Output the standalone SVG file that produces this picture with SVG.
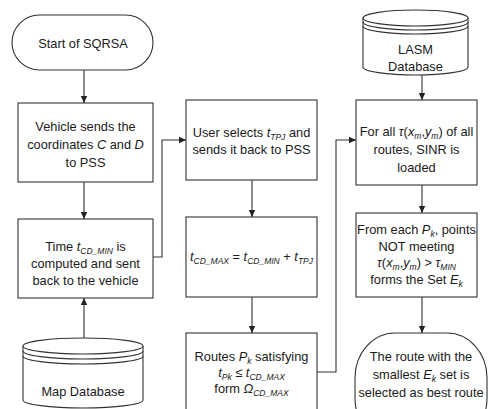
<svg xmlns="http://www.w3.org/2000/svg" width="489" height="409" viewBox="0 0 489 409">
<defs>
<marker id="ah" markerWidth="8" markerHeight="8" refX="7" refY="4" orient="auto" markerUnits="userSpaceOnUse">
<path d="M0,0.8 L7,4 L0,7.2 Z" fill="#222"/>
</marker>
<style>
.sh{fill:#fff;stroke:#333;stroke-width:1.1}
.ln{fill:none;stroke:#333;stroke-width:1.1}
text{font-family:"Liberation Sans",Arial,sans-serif;font-size:12.8px;fill:#1a1a1a;text-anchor:middle}
.i{font-style:italic}
.s{font-size:8.5px;font-style:italic}
</style>
</defs>
<rect width="489" height="409" fill="#fff"/>
<g id="connectors">
<path class="ln" d="M84,70 V103" marker-end="url(#ah)"/>
<path class="ln" d="M84,182 V219" marker-end="url(#ah)"/>
<path class="ln" d="M84,338 V298" marker-end="url(#ah)"/>
<path class="ln" d="M153,257 H162 V140 H186" marker-end="url(#ah)"/>
<path class="ln" d="M252,180 V217" marker-end="url(#ah)"/>
<path class="ln" d="M252,297 V333" marker-end="url(#ah)"/>
<path class="ln" d="M317,372 H336 V140 H356" marker-end="url(#ah)"/>
<path class="ln" d="M422,75 V100" marker-end="url(#ah)"/>
<path class="ln" d="M422,185 V213" marker-end="url(#ah)"/>
<path class="ln" d="M422,297 V333" marker-end="url(#ah)"/>
</g>
<g id="start">
<rect class="sh" x="12" y="15" width="141" height="55" rx="27.5"/>
<text x="83" y="47.5">Start of SQRSA</text>
</g>
<g id="vehicle">
<rect class="sh" x="18" y="103" width="135" height="79"/>
<text x="85.5" y="131">Vehicle sends the</text>
<text x="85.5" y="149">coordinates <tspan class="i">C</tspan> and <tspan class="i">D</tspan></text>
<text x="85.5" y="167">to PSS</text>
</g>
<g id="time">
<rect class="sh" x="18" y="219" width="135" height="79"/>
<text x="85.5" y="251">Time <tspan class="i">t</tspan><tspan class="s" dy="3">CD_MIN</tspan><tspan dy="-3"> is</tspan></text>
<text x="85.5" y="268">computed and sent</text>
<text x="85.5" y="285">back to the vehicle</text>
</g>
<g id="mapdb">
<path class="sh" d="M23,346 V400 A60,8 0 0 0 143,400 V346"/>
<ellipse class="sh" cx="83" cy="346" rx="60" ry="8"/>
<path class="ln" d="M23,351 A60,8 0 0 0 143,351 M23,356 A60,8 0 0 0 143,356"/>
<text x="83" y="396">Map Database</text>
</g>
<g id="user">
<rect class="sh" x="186" y="100" width="131" height="80"/>
<text x="251.5" y="137">User selects <tspan class="i">t</tspan><tspan class="s" dy="3">TPJ</tspan><tspan dy="-3"> and</tspan></text>
<text x="251.5" y="154">sends it back to PSS</text>
</g>
<g id="tmax">
<rect class="sh" x="186" y="217" width="131" height="80"/>
<text x="251.5" y="261"><tspan class="i">t</tspan><tspan class="s" dy="3">CD_MAX</tspan><tspan dy="-3"> = </tspan><tspan class="i">t</tspan><tspan class="s" dy="3">CD_MIN</tspan><tspan dy="-3"> + </tspan><tspan class="i">t</tspan><tspan class="s" dy="3">TPJ</tspan></text>
</g>
<g id="routes">
<rect class="sh" x="186" y="333" width="131" height="90"/>
<text x="251.5" y="361">Routes  <tspan class="i">P</tspan><tspan class="s" dy="3">k</tspan><tspan dy="-3"> satisfying</tspan></text>
<text x="251.5" y="377"><tspan class="i">t</tspan><tspan class="s" dy="3">Pk</tspan><tspan dy="-3"> ≤ </tspan><tspan class="i">t</tspan><tspan class="s" dy="3">CD_MAX</tspan></text>
<text x="251.5" y="393">form <tspan class="i">Ω</tspan><tspan class="s" dy="3">CD_MAX</tspan></text>
</g>
<g id="lasmdb">
<path class="sh" d="M363,18 V67 A52.5,8 0 0 0 468,67 V18"/>
<ellipse class="sh" cx="415.5" cy="18" rx="52.5" ry="8"/>
<path class="ln" d="M363,22 A52.5,8 0 0 0 468,22 M363,26 A52.5,8 0 0 0 468,26"/>
<text x="415.5" y="54">LASM</text>
<text x="415.5" y="71">Database</text>
</g>
<g id="sinr">
<rect class="sh" x="356" y="100" width="121" height="85"/>
<text x="416.5" y="136">For all  <tspan class="i">τ</tspan>(<tspan class="i">x</tspan><tspan class="s" dy="3">m</tspan><tspan dy="-3">,</tspan><tspan class="i">y</tspan><tspan class="s" dy="3">m</tspan><tspan dy="-3">) of all</tspan></text>
<text x="416.5" y="154">routes, SINR is</text>
<text x="416.5" y="172">loaded</text>
</g>
<g id="eset">
<rect class="sh" x="356" y="213" width="121" height="84"/>
<text x="416.5" y="234">From each <tspan class="i">P</tspan><tspan class="s" dy="3">k</tspan><tspan dy="-3">, points</tspan></text>
<text x="416.5" y="251">NOT meeting</text>
<text x="416.5" y="267"><tspan class="i">τ</tspan>(<tspan class="i">x</tspan><tspan class="s" dy="3">m</tspan><tspan dy="-3">,</tspan><tspan class="i">y</tspan><tspan class="s" dy="3">m</tspan><tspan dy="-3">) &gt; </tspan><tspan class="i">τ</tspan><tspan class="s" dy="3">MIN</tspan></text>
<text x="416.5" y="284">forms  the Set <tspan class="i">E</tspan><tspan class="s" dy="3">k</tspan></text>
</g>
<g id="best">
<rect class="sh" x="355" y="333" width="132" height="110" rx="40" ry="45"/>
<text x="421" y="361">The route with the</text>
<text x="421" y="379">smallest <tspan class="i">E</tspan><tspan class="s" dy="3">k</tspan><tspan dy="-3"> set is</tspan></text>
<text x="421" y="397">selected as best route</text>
</g>
</svg>
